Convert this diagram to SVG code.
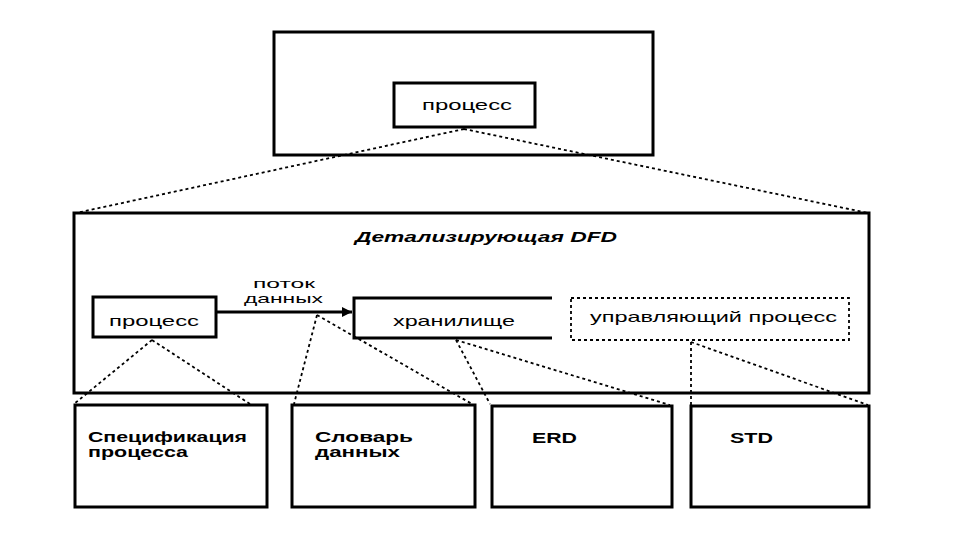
<svg xmlns="http://www.w3.org/2000/svg" width="960" height="540" viewBox="0 0 960 540">
<style>
.frame{fill:none;stroke:#000;stroke-width:3}
.box{fill:#fff;stroke:#000;stroke-width:3}
.dot{fill:none;stroke:#000;stroke-width:1.8;stroke-dasharray:3 3}
.t{font-family:"Liberation Sans",Arial,sans-serif;font-size:15px;fill:#000}
.s{font-family:"Liberation Sans",Arial,sans-serif;font-size:13px;fill:#000}
.b{font-family:"Liberation Sans",Arial,sans-serif;font-size:14px;font-weight:bold;fill:#000}
.ti{font-family:"Liberation Sans",Arial,sans-serif;font-size:14px;font-weight:bold;font-style:italic;fill:#000}
</style>
<defs>
<marker id="arr" viewBox="0 0 10 10" refX="10" refY="5" markerWidth="10" markerHeight="10" markerUnits="userSpaceOnUse" orient="auto">
<path d="M0,0 L10,5 L0,10 z" fill="#000"/>
</marker>
</defs>
<rect width="960" height="540" fill="#fff"/>
<g id="connectors">
<line class="dot" x1="464" y1="129" x2="76" y2="213"/>
<line class="dot" x1="464" y1="129" x2="868" y2="213"/>
<line x1="216" y1="312" x2="352" y2="312" stroke="#000" stroke-width="3" marker-end="url(#arr)"/>
<line class="dot" x1="152" y1="340" x2="74" y2="404"/>
<line class="dot" x1="152" y1="340" x2="250" y2="404"/>
<line class="dot" x1="317" y1="315" x2="294" y2="404"/>
<line class="dot" x1="317" y1="315" x2="472" y2="404"/>
<line class="dot" x1="456" y1="340" x2="490" y2="404"/>
<line class="dot" x1="456" y1="340" x2="670" y2="405"/>
<line class="dot" x1="691" y1="342" x2="691" y2="405"/>
<line class="dot" x1="691" y1="342" x2="868" y2="405"/>
</g>
<g id="context">
<rect class="frame" x="274" y="32" width="379" height="123"/>
</g>
<g id="top-process">
<rect class="box" x="394" y="83" width="141" height="44"/>
<text class="t" x="422" y="110" textLength="90" lengthAdjust="spacingAndGlyphs">процесс</text>
</g>
<g id="detail-dfd">
<rect class="frame" x="74" y="213" width="795" height="180"/>
<text class="ti" x="355" y="242" textLength="262" lengthAdjust="spacingAndGlyphs">Детализирующая DFD</text>
</g>
<g id="process">
<rect class="box" x="93" y="297" width="123" height="40"/>
<text class="t" x="109" y="326" textLength="90" lengthAdjust="spacingAndGlyphs">процесс</text>
</g>
<g id="flow-label">
<text class="s" x="253" y="288" textLength="62" lengthAdjust="spacingAndGlyphs">поток</text>
<text class="s" x="244" y="303" textLength="79" lengthAdjust="spacingAndGlyphs">данных</text>
</g>
<g id="store">
<path d="M552,298 H354 V338 H552" fill="none" stroke="#000" stroke-width="3"/>
<text class="t" x="393" y="326" textLength="122" lengthAdjust="spacingAndGlyphs">хранилище</text>
</g>
<g id="control-process">
<rect x="571" y="298" width="278" height="42" fill="none" stroke="#000" stroke-width="1.8" stroke-dasharray="3 3"/>
<text class="t" x="590" y="322" textLength="247" lengthAdjust="spacingAndGlyphs">управляющий процесс</text>
</g>
<g id="pspec">
<rect class="box" x="75" y="405" width="192" height="102"/>
<text class="b" x="88" y="442" textLength="159" lengthAdjust="spacingAndGlyphs">Спецификация</text>
<text class="b" x="88" y="457" textLength="100" lengthAdjust="spacingAndGlyphs">процесса</text>
</g>
<g id="dictionary">
<rect class="box" x="292" y="405" width="183" height="102"/>
<text class="b" x="315" y="442" textLength="98" lengthAdjust="spacingAndGlyphs">Словарь</text>
<text class="b" x="315" y="457" textLength="85" lengthAdjust="spacingAndGlyphs">данных</text>
</g>
<g id="erd">
<rect class="box" x="492" y="406" width="180" height="101"/>
<text class="b" x="532" y="443" textLength="45" lengthAdjust="spacingAndGlyphs">ERD</text>
</g>
<g id="std">
<rect class="box" x="691" y="406" width="178" height="101"/>
<text class="b" x="730" y="443" textLength="43" lengthAdjust="spacingAndGlyphs">STD</text>
</g>
</svg>
